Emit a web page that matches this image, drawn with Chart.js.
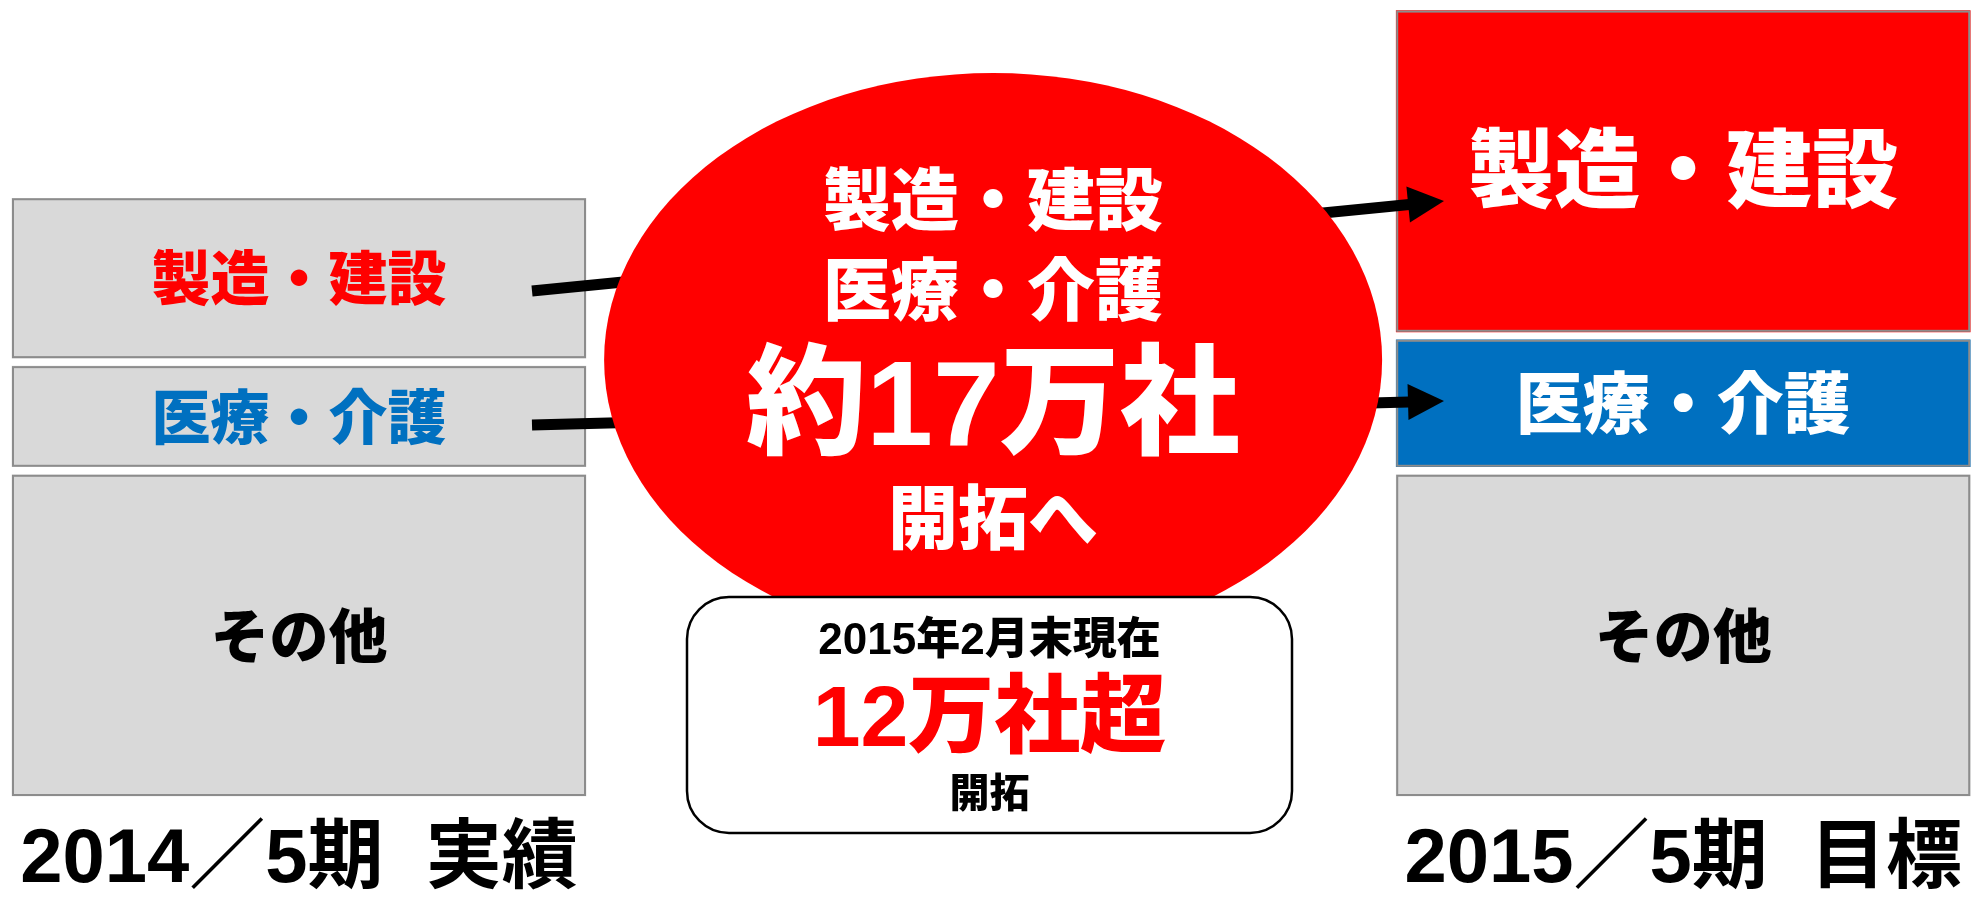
<!DOCTYPE html>
<html>
<head>
<meta charset="utf-8">
<script src="https://cdn.jsdelivr.net/npm/chart.js@4.4.0/dist/chart.umd.min.js"></script>
<style>
  html, body { margin: 0; padding: 0; background: #fff; }
</style>
</head>
<body>
<canvas id="mycanvas" width="1977" height="902"></canvas>
<script>
// periods (x categories) and stacked segments, bottom to top
var periods = ['2014／5期  実績', '2015／5期  目標'];
var segments = ['その他', '医療・介護', '製造・建設'];
var sonota = [100, 100];
var iryo = [33, 41];
var seizo = [51, 100];

var circleLines = ['製造・建設', '医療・介護', '約17万社', '開拓へ'];
var boxLines = ['2015年2月末現在', '12万社超', '開拓'];

var fontStack = '"Liberation Sans", "Noto Sans CJK JP", sans-serif';
var gap = 4;

function font(size) {
  return '900 ' + size + 'px ' + fontStack;
}

var overlay = {
  id: 'overlay',
  afterDatasetsDraw: function(chart) {
    var ctx = chart.ctx;
    ctx.save();
    ctx.textAlign = 'center';
    ctx.textBaseline = 'middle';

    // segment outlines + names
    chart.data.datasets.forEach(function(ds, i) {
      var meta = chart.getDatasetMeta(i);
      meta.data.forEach(function(bar, j) {
        var p = bar.getProps(['x', 'y', 'base', 'width'], true);
        var left = p.x - p.width / 2 + gap;
        var right = p.x + p.width / 2 - gap;
        var top = Math.min(p.y, p.base) + gap;
        var bottom = Math.max(p.y, p.base) - gap;
        ctx.strokeStyle = '#8c8c8c';
        ctx.lineWidth = 2;
        ctx.strokeRect(left + 1, top + 1, right - left - 2, bottom - top - 2);
        ctx.fillStyle = ds.labelColor[j];
        ctx.font = font(ds.labelSize[j]);
        ctx.fillText(ds.label, p.x, (top + bottom) / 2 + 6);
      });
    });

    // arrows (behind the circle)
    function arrow(x1, y1, x2, y2) {
      var a = Math.atan2(y2 - y1, x2 - x1);
      var hl = 36, hw = 18;
      var bx = x2 - hl * Math.cos(a), by = y2 - hl * Math.sin(a);
      ctx.strokeStyle = '#000';
      ctx.lineWidth = 11;
      ctx.beginPath();
      ctx.moveTo(x1, y1);
      ctx.lineTo(bx + Math.cos(a), by + Math.sin(a));
      ctx.stroke();
      ctx.fillStyle = '#000';
      ctx.beginPath();
      ctx.moveTo(x2, y2);
      ctx.lineTo(bx - hw * Math.sin(a), by + hw * Math.cos(a));
      ctx.lineTo(bx + hw * Math.sin(a), by - hw * Math.cos(a));
      ctx.closePath();
      ctx.fill();
    }
    arrow(532, 291, 1444, 201);
    arrow(532, 425, 1444, 401);

    // red circle in the middle
    var xs = chart.scales.x;
    var cx = (xs.getPixelForValue(0) + xs.getPixelForValue(1)) / 2 + 2;
    ctx.fillStyle = '#ff0000';
    ctx.beginPath();
    ctx.ellipse(cx, 360, 389, 287, 0, 0, Math.PI * 2);
    ctx.fill();

    ctx.fillStyle = '#fff';
    var cSizes = [68, 68, 120, 70];
    var cY = [206, 296, 412, 525];
    circleLines.forEach(function(t, k) {
      ctx.font = font(cSizes[k]);
      ctx.fillText(t, cx, cY[k]);
    });

    // rounded box
    var bx = 687, by = 597, bw = 605, bh = 236;
    ctx.beginPath();
    ctx.roundRect(bx, by, bw, bh, 42);
    ctx.fillStyle = '#fff';
    ctx.fill();
    ctx.lineWidth = 2.5;
    ctx.strokeStyle = '#000';
    ctx.stroke();

    var bSizes = [44, 86, 40];
    var bY = [642, 722, 796];
    var bCol = ['#000', '#ff0000', '#000'];
    boxLines.forEach(function(t, k) {
      ctx.font = font(bSizes[k]);
      ctx.fillStyle = bCol[k];
      ctx.fillText(t, bx + bw / 2, bY[k]);
    });
    ctx.restore();
  }
};

var common = {
  borderColor: '#ffffff',
  borderWidth: gap,
  borderSkipped: false,
  barThickness: 582,
  clip: false
};

var chartdata = {
  labels: periods,
  datasets: [
    Object.assign({
      label: segments[0],
      data: sonota,
      backgroundColor: ['#d9d9d9', '#d9d9d9'],
      labelColor: ['#000', '#000'],
      labelSize: [59, 59]
    }, common),
    Object.assign({
      label: segments[1],
      data: iryo,
      backgroundColor: ['#d9d9d9', '#0070c0'],
      labelColor: ['#0070c0', '#fff'],
      labelSize: [59, 67]
    }, common),
    Object.assign({
      label: segments[2],
      data: seizo,
      backgroundColor: ['#d9d9d9', '#ff0000'],
      labelColor: ['#ff0000', '#fff'],
      labelSize: [59, 86]
    }, common)
  ]
};

var ctx = document.getElementById('mycanvas');
var barGraph = new Chart(ctx, {
  type: 'bar',
  data: chartdata,
  plugins: [overlay],
  options: {
    responsive: false,
    animation: false,
    devicePixelRatio: 1,
    layout: { padding: { left: 299, right: 292, top: 0, bottom: 0 } },
    plugins: {
      legend: { display: false },
      tooltip: { enabled: false }
    },
    scales: {
      x: {
        stacked: true,
        offset: false,
        grid: { display: false, drawTicks: false },
        border: { display: false },
        ticks: {
          color: '#000',
          font: { family: fontStack, size: 76, weight: 'bold' },
          padding: 15,
          maxRotation: 0,
          autoSkip: false
        },
        afterFit: function(s) { s.height = 102; }
      },
      y: {
        stacked: true,
        display: false,
        min: 0,
        max: 243
      }
    }
  }
});
</script>
</body>
</html>
